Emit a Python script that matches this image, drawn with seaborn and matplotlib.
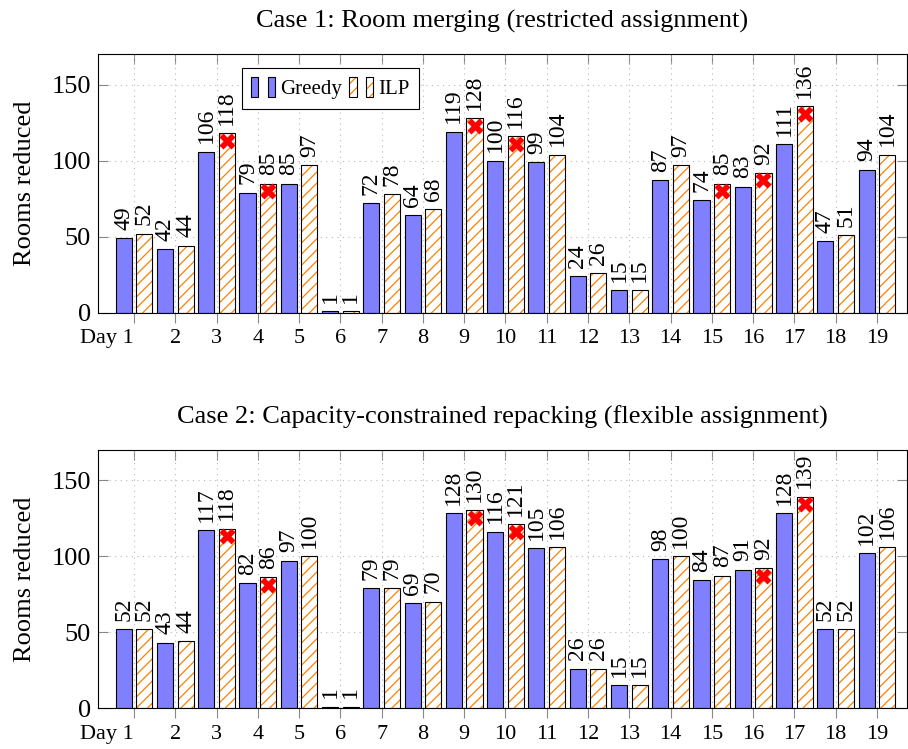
import matplotlib
matplotlib.use("Agg")
import matplotlib.pyplot as plt
import matplotlib.patches as mpatches
import matplotlib.transforms as mtransforms
from matplotlib.legend_handler import HandlerTuple
import pandas as pd
import seaborn as sns

days = list(range(1, 20))

case1_greedy = [49, 42, 106, 79, 85, 1, 72, 64, 119, 100, 99, 24, 15, 87, 74, 83, 111, 47, 94]
case1_ilp = [52, 44, 118, 85, 97, 1, 78, 68, 128, 116, 104, 26, 15, 97, 85, 92, 136, 51, 104]
case1_marked = [3, 4, 9, 10, 15, 16, 17]

case2_greedy = [52, 43, 117, 82, 97, 1, 79, 69, 128, 116, 105, 26, 15, 98, 84, 91, 128, 52, 102]
case2_ilp = [52, 44, 118, 86, 100, 1, 79, 70, 130, 121, 106, 26, 15, 100, 87, 92, 139, 52, 106]
case2_marked = [3, 4, 9, 10, 16, 17]

titles = ["Case 1: Room merging (restricted assignment)",
          "Case 2: Capacity-constrained repacking (flexible assignment)"]

GREEDY_COLOR = "#8080ff"
ILP_HATCH = "#ff8000"

sns.set_theme(style="white")
plt.rcParams["font.family"] = ["Liberation Serif", "DejaVu Serif"]
plt.rcParams["patch.force_edgecolor"] = False
plt.rcParams["hatch.linewidth"] = 0.9
plt.rcParams["text.color"] = "black"
plt.rcParams["axes.labelcolor"] = "black"
plt.rcParams["axes.titlecolor"] = "black"


def draw(ax, title, greedy, ilp, marked):
    df = pd.DataFrame({"day": days * 2,
                       "rooms": greedy + ilp,
                       "method": ["Greedy"] * len(days) + ["ILP"] * len(days)})
    sns.barplot(data=df, x="day", y="rooms", hue="method", order=days,
                palette=[GREEDY_COLOR, "white"], width=1.0, gap=0.22,
                saturation=1, errorbar=None, edgecolor="black", linewidth=0.8,
                legend=False, ax=ax)
    greedy_c, ilp_c = ax.containers[0], ax.containers[1]
    # hatched ILP bars: orange hatch, black outline drawn on top
    for p in ilp_c:
        p.set_facecolor("white")
        p.set_hatch("///")
        p.set_edgecolor(ILP_HATCH)
        p.set_linewidth(0)
        ax.add_patch(mpatches.Rectangle((p.get_x(), p.get_y()), p.get_width(), p.get_height(),
                                        fill=False, edgecolor="black", linewidth=0.8,
                                        zorder=p.get_zorder() + 0.1))
    ax.bar_label(greedy_c, labels=[str(v) for v in greedy], rotation=90, padding=6,
                 fontsize=17, color="black")
    ax.bar_label(ilp_c, labels=[str(v) for v in ilp], rotation=90, padding=6,
                 fontsize=17, color="black")

    for d in marked:
        i = days.index(d)
        p = ilp_c[i]
        ax.plot(p.get_x() + p.get_width() / 2, ilp[i] - 5, "X", color="red",
                markersize=11, markeredgecolor="none", zorder=5)

    ax.set_xlim(-0.88, 18.73)
    ax.set_ylim(0, 170)
    ax.set_yticks([0, 50, 100, 150])
    ax.set_xticks(range(len(days)))
    ax.set_xticklabels(["Day 1"] + [str(d) for d in days[1:]])
    first = ax.get_xticklabels()[0]
    first.set_horizontalalignment("right")
    first.set_transform(first.get_transform() +
                        mtransforms.ScaledTranslation(5.2 / 72, 0, ax.figure.dpi_scale_trans))

    ax.set_xlabel("")
    ax.set_ylabel("Rooms reduced", fontsize=19, labelpad=11)
    ax.set_title(title, fontsize=19, pad=19)

    ax.grid(True, linestyle=(0, (1, 4)), color="#b8b8b8", linewidth=0.8)
    ax.set_axisbelow(True)
    for s in ax.spines.values():
        s.set_color("black")
        s.set_linewidth(0.8)

    ax.tick_params(axis="x", direction="out", length=7, width=0.8, color="#888888",
                   labelcolor="black", labelsize=16, pad=5, bottom=True)
    ax.tick_params(axis="y", direction="in", length=7, width=0.8, color="#888888",
                   labelcolor="black", labelsize=19, pad=5, left=True, right=True)
    top = ax.secondary_xaxis("top")
    top.set_xticks(range(len(days)))
    top.tick_params(direction="in", length=7, width=0.8, color="#888888", labeltop=False)
    top.spines["top"].set_visible(False)


fig = plt.figure(figsize=(9.08, 7.49), dpi=100)
ax1 = fig.add_axes([0.1076, 0.5825, 0.8914, 0.345])
ax2 = fig.add_axes([0.1076, 0.0547, 0.8914, 0.345])

draw(ax1, titles[0], case1_greedy, case1_ilp, case1_marked)
draw(ax2, titles[1], case2_greedy, case2_ilp, case2_marked)

# legend with paired bar glyphs like the original
g = mpatches.Patch(facecolor=GREEDY_COLOR, edgecolor="black", linewidth=0.8)
ih = mpatches.Patch(facecolor="white", edgecolor=ILP_HATCH, hatch="///", linewidth=0)
ib = mpatches.Patch(facecolor="none", edgecolor="black", linewidth=0.8)
greedy_handle = (g, g)
ilp_handle = ((ih, ib), (ih, ib))
leg = ax1.legend([greedy_handle, ilp_handle], ["Greedy", "ILP"], ncol=2,
                 handler_map={greedy_handle: HandlerTuple(ndivide=2, pad=0.45),
                              ilp_handle: HandlerTuple(ndivide=2, pad=0.45)},
                 loc="upper left", bbox_to_anchor=(0.178, 0.947), borderaxespad=0,
                 fontsize=15, handlelength=1.15, handleheight=1.1, handletextpad=0.25,
                 columnspacing=0.35, borderpad=0.45, fancybox=False,
                 framealpha=1, edgecolor="black")
leg.get_frame().set_linewidth(0.8)

fig.savefig("out.png", dpi=100)
